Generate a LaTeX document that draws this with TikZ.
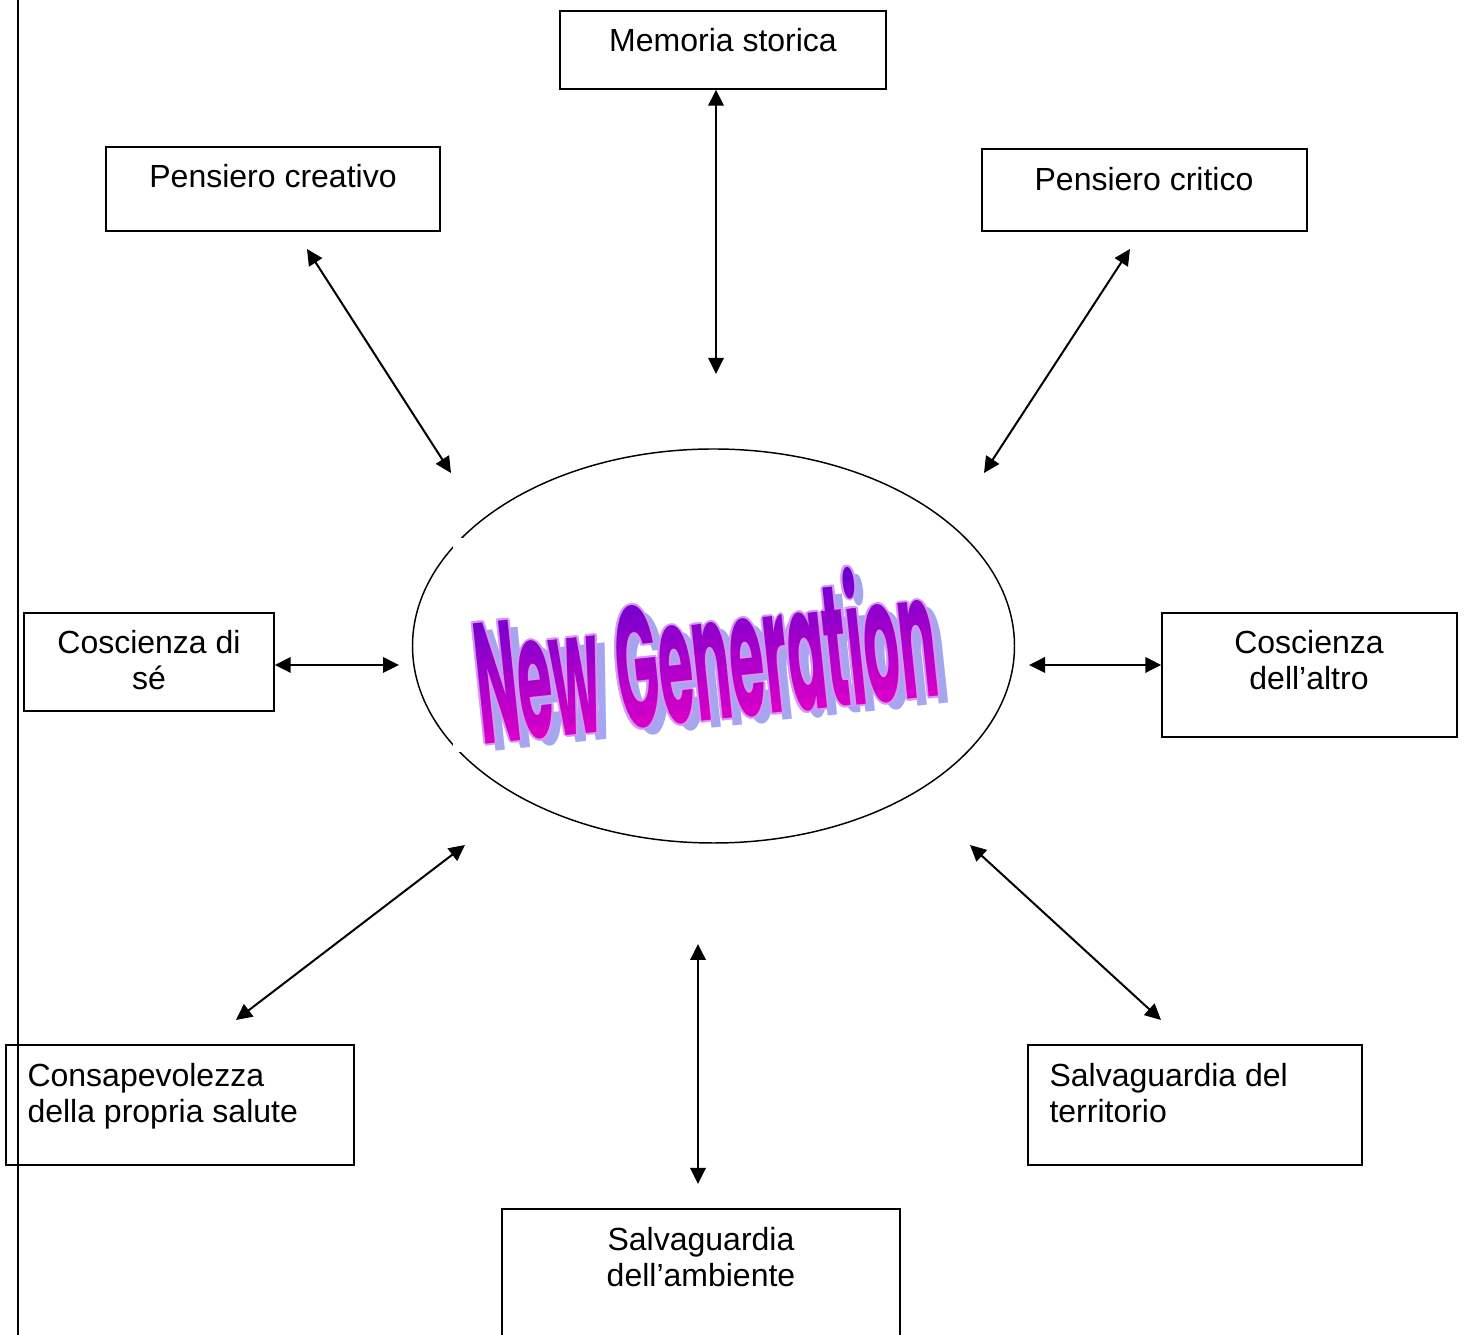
\documentclass[tikz,border=0pt]{standalone}
\usepackage{fontspec}
\setmainfont{Liberation Sans}
\newfontfamily\wafont{Poppins}
\usetikzlibrary{shapes.geometric,arrows.meta}
\newlength\px
\setlength\px{0.375pt}
\tikzset{
  box/.style={draw, rectangle, line width=0.55pt, inner sep=0pt},
  lbl/.style={inner sep=0pt, anchor=base, font=\fontsize{12}{13.6}\selectfont},
  link/.style={line width=0.75pt, {Triangle[length=6pt,width=5.8pt]}-{Triangle[length=6pt,width=5.8pt]}},
  wa/.style={inner sep=0pt, transform shape, font=\wafont\bfseries}
}
\newcommand\ngtext{\resizebox{462\px}{138\px}{New\hspace{0.3em}Generation}}
\begin{document}
\begin{tikzpicture}[x=0.375pt,y=-0.375pt]

\def\WATOP{wtop}
\def\WABOT{wbot}
\definecolor{wtop}{RGB}{110,0,205}
\definecolor{wbot}{RGB}{215,0,200}
\definecolor{wshadow}{RGB}{165,165,240}
\definecolor{wedge}{RGB}{215,150,245}
	\useasboundingbox (0,0) rectangle (1466,1335);
	\draw[line width=0.75pt] (18,-10) -- (18,1345);

	\node[box, minimum width=326*\px, minimum height=78*\px] (memoria) at (723,50) {};
	\node[box, minimum width=334*\px, minimum height=84*\px] (creativo) at (273,189) {};
	\node[box, minimum width=325*\px, minimum height=82*\px] (critico) at (1144.5,190) {};
	\node[box, minimum width=250*\px, minimum height=98*\px] (se) at (149,662) {};
	\node[box, minimum width=295*\px, minimum height=124*\px] (altro) at (1309.5,675) {};
	\node[box, minimum width=348*\px, minimum height=120*\px] (salute) at (180,1105) {};
	\node[box, minimum width=334*\px, minimum height=120*\px] (territorio) at (1195,1105) {};
	\node[box, minimum width=398*\px, minimum height=170*\px] (ambiente) at (701,1294) {};

	\node[lbl] (memoriaT) at (723,52) {Memoria storica};
	\node[lbl] (creativoT) at (273,188) {Pensiero creativo};
	\node[lbl] (criticoT) at (1144,191) {Pensiero critico};
	\node[lbl, align=center] (seT) at (149,690) {Coscienza di\\sé};
	\node[lbl, align=center] (altroT) at (1309,690) {Coscienza\\dell’altro};
	\node[lbl, align=left, anchor=base west] (saluteT) at (27,1123) {Consapevolezza\\della propria salute};
	\node[lbl, align=left, anchor=base west] (territorioT) at (1049,1123) {Salvaguardia del\\territorio};
	\node[lbl, align=center] (ambienteT) at (701,1287) {Salvaguardia\\dell’ambiente};

	\node[draw, ellipse, line width=0.55pt, minimum width=602*\px, minimum height=394*\px] (ng) at (713.5,646) {};
	\fill[white] (453,538) rectangle (950,752);
	\begin{scope}[shift={(705,652)}, rotate=6]
	\node[wa, text=wshadow] (ngS) at (9,8) {\ngtext};
	\foreach \dx/\dy in {-2/0,2/0,0/-2,0/2,-1.5/-1.5,1.5/-1.5,-1.5/1.5,1.5/1.5}
		\node[wa, text=wedge] at (\dx,\dy) {\ngtext};
	\foreach \i in {0,...,9}{
		\pgfmathtruncatemacro\p{100-\i*100/9}
		\begin{scope}
		\clip (-300,-71+\i*14.2) rectangle (300,-71+\i*14.2+14.4);
		\node[wa, text=\WATOP!\p!\WABOT] at (0,0) {\ngtext};
		\end{scope}
	}
	\end{scope}

	\coordinate (m2) at (716,374);
	\coordinate (c1) at (307,249);
	\coordinate (c2) at (451,473);
	\coordinate (k1) at (1130,249);
	\coordinate (k2) at (984,473);
	\coordinate (s2) at (399,665);
	\coordinate (a2) at (1029,665);
	\coordinate (p1) at (236,1020);
	\coordinate (p2) at (465,845);
	\coordinate (t1) at (1161,1020);
	\coordinate (t2) at (970,845);
	\coordinate (b1) at (698,944);
	\coordinate (b2) at (698,1184);
	\draw[link] (memoria.south -| m2) -- (m2);
	\draw[link] (c1) -- (c2);
	\draw[link] (k1) -- (k2);
	\draw[link] (se.east |- s2) -- (s2);
	\draw[link] (altro.west |- a2) -- (a2);
	\draw[link] (p1) -- (p2);
	\draw[link] (t1) -- (t2);
	\draw[link] (b1) -- (b2);

\end{tikzpicture}
\end{document}
